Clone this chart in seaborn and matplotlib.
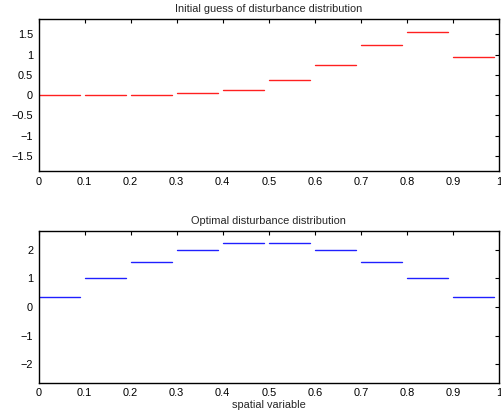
import numpy as np
import pandas as pd
import matplotlib
matplotlib.use("Agg")
import matplotlib.pyplot as plt
import seaborn as sns

seg_start = [0.0, 0.1, 0.2, 0.3, 0.4, 0.5, 0.6, 0.7, 0.8, 0.9]
seg_end = [0.09, 0.19, 0.29, 0.39, 0.49, 0.59, 0.69, 0.79, 0.89, 0.99]
initial_guess = [0.0, 0.0, 0.01, 0.04, 0.13, 0.36, 0.74, 1.24, 1.55, 0.93]
optimal = [0.35, 1.01, 1.58, 1.99, 2.21, 2.21, 1.99, 1.58, 1.01, 0.35]
x_ticks = [0, 0.1, 0.2, 0.3, 0.4, 0.5, 0.6, 0.7, 0.8, 0.9, 1]
x_tick_labels = ["0", "0.1", "0.2", "0.3", "0.4", "0.5", "0.6", "0.7", "0.8", "0.9", "1"]
top_yticks = [-1.5, -1, -0.5, 0, 0.5, 1, 1.5]
top_ylabels = ["\u22121.5", "\u22121", "\u22120.5", "0", "0.5", "1", "1.5"]
bot_yticks = [-2, -1, 0, 1, 2]
bot_ylabels = ["\u22122", "\u22121", "0", "1", "2"]


def seg_frame(vals):
    rows = []
    for i, (a, b, v) in enumerate(zip(seg_start, seg_end, vals)):
        rows.append({"x": a, "y": v, "seg": i})
        rows.append({"x": b, "y": v, "seg": i})
    return pd.DataFrame(rows)


sns.set_style("white")
plt.rcParams["font.family"] = ["Liberation Sans", "DejaVu Sans"]
plt.rcParams["font.size"] = 7.9

fig = plt.figure(figsize=(5.01, 4.15), dpi=100)
ax1 = fig.add_axes([0.077, 0.588, 0.919, 0.366])
ax2 = fig.add_axes([0.077, 0.078, 0.919, 0.365])

sns.lineplot(data=seg_frame(initial_guess), x="x", y="y", units="seg",
             estimator=None, color="#ff2020", linewidth=1.0, ax=ax1)
sns.lineplot(data=seg_frame(optimal), x="x", y="y", units="seg",
             estimator=None, color="#2020ff", linewidth=1.0, ax=ax2)

for ax, yt, yl, lim, title in [
    (ax1, top_yticks, top_ylabels, 1.875, "Initial guess of disturbance distribution"),
    (ax2, bot_yticks, bot_ylabels, 2.64, "Optimal disturbance distribution"),
]:
    ax.set_xlim(0, 1)
    ax.set_ylim(-lim, lim)
    ax.set_xticks(x_ticks)
    ax.set_xticklabels(x_tick_labels)
    ax.set_yticks(yt)
    ax.set_yticklabels(yl)
    ax.tick_params(direction="in", length=3, width=0.8, top=True, right=True,
                   labelsize=7.9, pad=4, colors="black")
    for s in ax.spines.values():
        s.set_visible(True)
        s.set_color("black")
        s.set_linewidth(1.0)
    ax.set_title(title, fontsize=7.9, pad=5)
    ax.set_ylabel("")
    ax.set_xlabel("")

ax2.set_xlabel("spatial variable", fontsize=7.9, labelpad=1)

fig.savefig("out.png", dpi=100)
